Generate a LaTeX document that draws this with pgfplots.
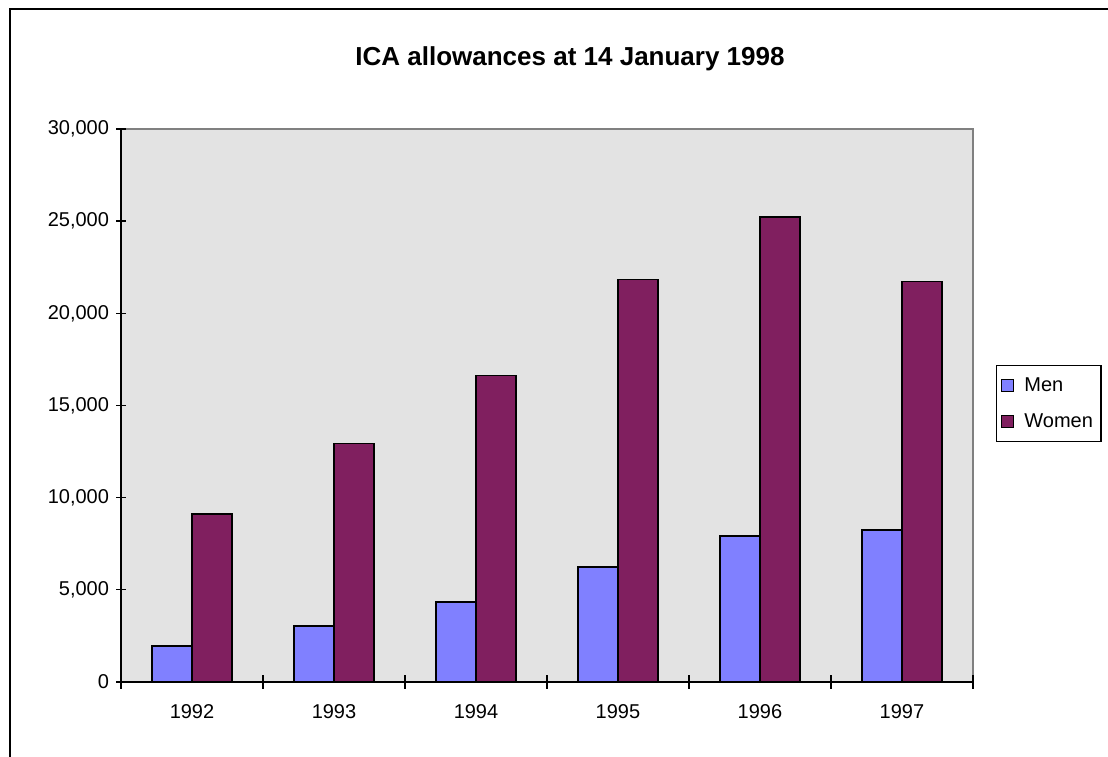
\documentclass[border=0pt]{standalone}
\usepackage{pgfplots}
\pgfplotsset{compat=1.18}
\usepackage{fontspec}
\setmainfont{Liberation Sans}
\definecolor{menc}{RGB}{128,128,255}
\definecolor{womenc}{RGB}{128,31,95}
\definecolor{plotbg}{RGB}{227,227,227}
\begin{document}
\begin{tikzpicture}
\useasboundingbox (-90.75pt,-56.25pt) rectangle (740.25pt,511.5pt);
\draw[line width=1.1pt] (-83.25pt,-60pt) -- (-83.25pt,504.75pt) -- (745pt,504.75pt);
\begin{axis}[
  at={(0pt,0pt)}, anchor=south west,
  scale only axis,
  width=639pt, height=414.75pt,
  ybar=0pt, bar width=30pt,
  xmin=-0.5, xmax=5.5, ymin=0, ymax=30000,
  xtick={0,1,2,3,4,5},
  xticklabels={1992,1993,1994,1995,1996,1997},
  minor xtick={-0.5,0.5,1.5,2.5,3.5,4.5,5.5},
  ytick={0,5000,10000,15000,20000,25000,30000},
  scaled y ticks=false,
  /pgf/number format/.cd, 1000 sep={,}, assume math mode=true, /pgfplots/.cd,
  tick align=center,
  major tick length=7pt,
  minor tick length=10pt,
  x tick style={draw=none},
  minor x tick style={draw=black, line width=1pt},
  y tick style={draw=black, line width=1pt},
  axis x line*=bottom, axis y line*=left,
  axis line style={line width=1.1pt, -},
  axis background/.style={fill=plotbg, draw=gray, line width=0.8pt},
  tick label style={font=\fontsize{15}{18}\selectfont},
  xticklabel style={yshift=-10pt},
  yticklabel style={xshift=-2pt},
  legend style={at={(1.027,0.573)}, anchor=north west, draw=black, line width=1pt,
    font=\fontsize{15}{18}\selectfont, inner xsep=3pt, inner ysep=7pt,
    nodes={inner xsep=3pt},
    row sep=11pt, cells={anchor=west}},
  legend image code/.code={\draw[#1, line width=0.8pt] (0pt,-4.5pt) rectangle (9pt,4.5pt);},
  legend cell align=left,
]
\addplot[fill=menc, draw=black, line width=1.1pt] coordinates {
 (0,1950) (1,3030) (2,4350) (3,6250) (4,7930) (5,8240)};
\addplot[fill=womenc, draw=black, line width=1.1pt] coordinates {
 (0,9110) (1,12930) (2,16630) (3,21830) (4,25230) (5,21740)};
\legend{\hspace{5pt}Men,\hspace{5pt}Women}
\end{axis}
\node[font=\bfseries\fontsize{19.5}{22}\selectfont] at (336.75pt,467.5pt) {ICA allowances at 14 January 1998};
\end{tikzpicture}
\end{document}
